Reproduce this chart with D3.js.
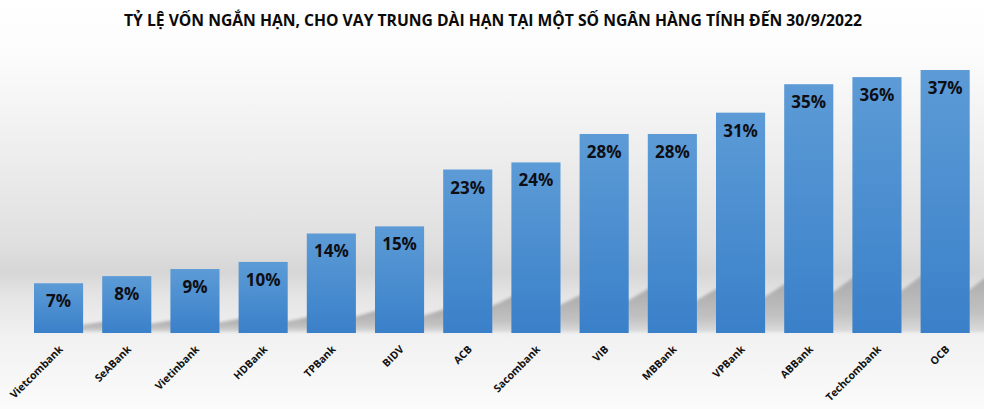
<!DOCTYPE html>
<html>
<head>
<meta charset="utf-8">
<script src="https://cdn.jsdelivr.net/npm/d3@7"></script>
<style>
html,body{margin:0;padding:0;background:#fff;}
svg{display:block;}
</style>
</head>
<body>
<svg id="chart" width="984" height="409"></svg>
<script>
const title = "TỶ LỆ VỐN NGẮN HẠN, CHO VAY TRUNG DÀI HẠN TẠI MỘT SỐ NGÂN HÀNG TÍNH ĐẾN 30/9/2022";
const banks = ["Vietcombank","SeABank","Vietinbank","HDBank","TPBank","BIDV","ACB","Sacombank","VIB","MBBank","VPBank","ABBank","Techcombank","OCB"];
const ratios = [7,8,9,10,14,15,23,24,28,28,31,35,36,37];

const W = 984, H = 409;
const svg = d3.select("#chart");
const defs = svg.append("defs");

const bg = defs.append("linearGradient").attr("id","bg").attr("x1",0).attr("y1",0).attr("x2",0).attr("y2",1);
[[0,"#ffffff"],[0.15,"#fbfbfb"],[0.4,"#ececec"],[0.6,"#dfdfdf"],[0.665,"#d6d6d6"],[0.72,"#e4e4e4"],[0.82,"#f1f1f1"],[1,"#fbfbfb"]]
  .forEach(([o,c])=>bg.append("stop").attr("offset",o).attr("stop-color",c));

const bar = defs.append("linearGradient").attr("id","bar").attr("x1",0).attr("y1",0).attr("x2",0).attr("y2",1);
[[0,"#5c9bd6"],[1,"#3a80c9"]].forEach(([o,c])=>bar.append("stop").attr("offset",o).attr("stop-color",c));

const sh = defs.append("linearGradient").attr("id","sh").attr("x1",0).attr("y1",0).attr("x2",0).attr("y2",1);
[[0,"#a9a9a9"],[0.7,"#c2c2c2"],[1,"#dcdcdc"]].forEach(([o,c])=>sh.append("stop").attr("offset",o).attr("stop-color",c));

const blur = defs.append("filter").attr("id","blur").attr("x","-20%").attr("y","-20%").attr("width","140%").attr("height","140%");
blur.append("feGaussianBlur").attr("stdDeviation",1.6);

svg.append("rect").attr("width",W).attr("height",H).attr("fill","url(#bg)");

svg.append("text")
  .attr("x",124).attr("y",26)
  .attr("textLength",738).attr("lengthAdjust","spacingAndGlyphs")
  .attr("font-family","'Open Sans', sans-serif").attr("font-weight",700).attr("font-size",16)
  .attr("fill","#0a0a0a").text(title);

const x = d3.scaleBand().domain(banks).range([24.45,979.25]).paddingInner(0.28).paddingOuter(0.14);
const y = d3.scaleLinear().domain([0,37]).range([333,70]);
const base = y(0);

const data = banks.map((b,i)=>({bank:b, v:ratios[i]}));

// shadows
svg.append("g").attr("filter","url(#blur)").selectAll("polygon").data(data).join("polygon")
  .attr("fill","url(#sh)")
  .attr("points", d=>{
    const x1 = x(d.bank)+x.bandwidth();
    const h = base - y(d.v);
    return [[x1-2,base-1],[x1-2,base-0.16*h],[x1+24,base-0.235*h],[x1+24,base-1]].map(p=>p.join(",")).join(" ");
  });

svg.append("g").selectAll("rect").data(data).join("rect")
  .attr("x",d=>x(d.bank)).attr("y",d=>y(d.v))
  .attr("width",x.bandwidth()).attr("height",d=>base-y(d.v))
  .attr("fill","url(#bar)");

svg.append("g").selectAll("text").data(data).join("text")
  .attr("x",d=>x(d.bank)+x.bandwidth()/2).attr("y",d=>y(d.v)+24)
  .attr("text-anchor","middle")
  .attr("font-family","'Open Sans', sans-serif").attr("font-weight",700).attr("font-size",17)
  .attr("fill","#0e0e14").text(d=>d.v+"%");

// category axis
const axis = svg.append("g").attr("transform",`translate(0,${base})`)
  .call(d3.axisBottom(x).tickSize(0).tickPadding(0));
axis.select(".domain").remove();
axis.selectAll("text")
  .attr("font-family","'Open Sans', sans-serif").attr("font-weight",700).attr("font-size",10.5)
  .attr("fill","#111")
  .attr("text-anchor","end")
  .attr("dy",0)
  .attr("transform","translate(5,17) rotate(-45)");
</script>
</body>
</html>
